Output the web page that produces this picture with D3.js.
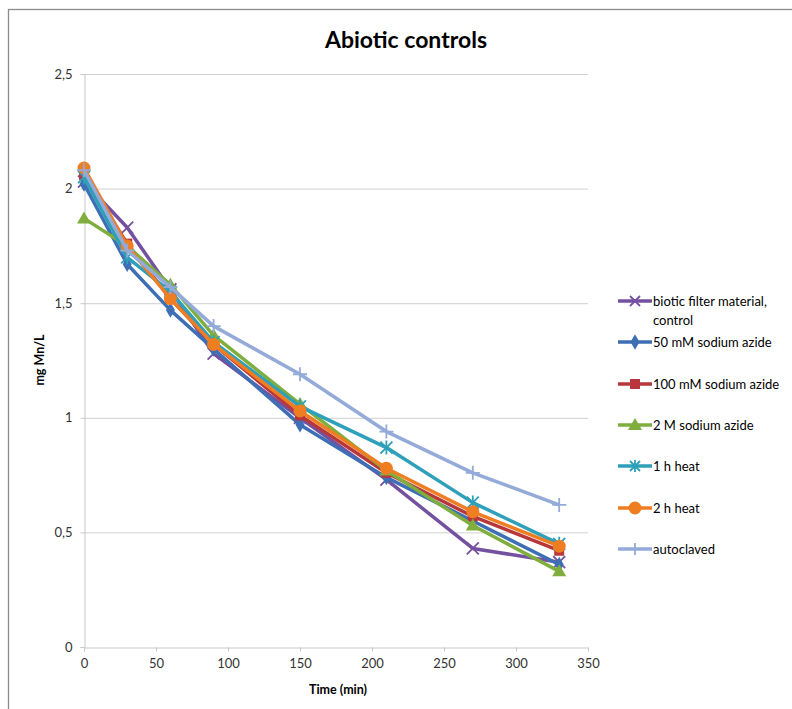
<!DOCTYPE html>
<html><head><meta charset="utf-8">
<script src="https://cdn.jsdelivr.net/npm/d3@7"></script>
<style>body{margin:0;background:#fff}svg{display:block;font-family:Lato,"Open Sans",sans-serif}</style>
</head><body><svg id="c" width="792" height="709"></svg>
<script>
const times = [0, 30, 60, 90, 150, 210, 270, 330];
const seriesNames = ["biotic filter material, control","50 mM sodium azide","100 mM sodium azide","2 M sodium azide","1 h heat","2 h heat","autoclaved"];
const bioticControl = [2.03, 1.83, 1.56, 1.28, 1.00, 0.73, 0.43, 0.37];
const azide50 = [2.02, 1.67, 1.47, 1.30, 0.97, 0.74, 0.55, 0.36];
const azide100 = [2.06, 1.76, 1.52, 1.32, 1.01, 0.76, 0.57, 0.42];
const azide2M = [1.87, 1.75, 1.58, 1.36, 1.06, 0.77, 0.53, 0.33];
const heat1h = [2.05, 1.70, 1.55, 1.33, 1.05, 0.87, 0.63, 0.45];
const heat2h = [2.09, 1.75, 1.52, 1.32, 1.03, 0.78, 0.59, 0.44];
const autoclaved = [2.08, 1.73, 1.57, 1.40, 1.19, 0.94, 0.76, 0.62];
const xTicks = [0, 50, 100, 150, 200, 250, 300, 350];
const yTicks = [0, 0.5, 1, 1.5, 2, 2.5];
const yTickLabels = ["0", "0,5", "1", "1,5", "2", "2,5"];
const colors = ["#7451a0", "#3e6fb5", "#b8373a", "#7fae3e", "#2ea0b9", "#ef7d22", "#94aad8"];
const markers = ["x", "diamond", "square", "triangle", "asterisk", "circle", "plus"];
const values = [bioticControl, azide50, azide100, azide2M, heat1h, heat2h, autoclaved];

const svg = d3.select("#c");
svg.append("rect").attr("x", 8.5).attr("y", 9.5).attr("width", 800).attr("height", 720)
  .attr("fill", "#fff").attr("stroke", "#8c8c8c").attr("stroke-width", 1.3);

const x = d3.scaleLinear().domain([0, 350]).range([84, 588]);
const y = d3.scaleLinear().domain([0, 2.5]).range([647, 74]);

svg.append("g").selectAll("line").data(yTicks.slice(1)).join("line")
  .attr("x1", 84).attr("x2", 588).attr("y1", d => y(d) + 0.5).attr("y2", d => y(d) + 0.5)
  .attr("stroke", "#d0d0d0").attr("stroke-width", 1);

const xAxis = svg.append("g").attr("transform", `translate(0,${y(0) + 0.5})`)
  .call(d3.axisBottom(x).tickValues(xTicks).tickSize(4).tickPadding(7));
const yAxis = svg.append("g").attr("transform", `translate(${x(0) + 0.5},0)`)
  .call(d3.axisLeft(y).tickValues(yTicks).tickFormat((d, i) => yTickLabels[i]).tickSize(4).tickPadding(8));
[xAxis, yAxis].forEach(a => {
  a.select(".domain").attr("stroke", "#c8c8c8");
  a.selectAll(".tick line").attr("stroke", "#c8c8c8");
  a.selectAll("text").attr("fill", "#333").style("font-size", "13px").style("font-family", "Lato, sans-serif");
});

svg.append("text").attr("x", 406).attr("y", 48).attr("text-anchor", "middle")
  .style("font-size", "23px").style("font-weight", "bold").attr("fill", "#000").text("Abiotic controls");
svg.append("text").attr("x", 338).attr("y", 694).attr("text-anchor", "middle")
  .style("font-size", "12.5px").style("font-weight", "bold").attr("fill", "#000").text("Time (min)");
svg.append("text").attr("transform", "translate(44,360) rotate(-90)").attr("text-anchor", "middle")
  .style("font-size", "12.5px").style("font-weight", "bold").attr("fill", "#000").text("mg Mn/L");

function drawMarker(g, type, cx, cy, color, s) {
  const m = g.append("g").attr("transform", `translate(${cx},${cy})`);
  if (type === "x") {
    m.append("path").attr("d", `M${-s},${-s}L${s},${s}M${-s},${s}L${s},${-s}`).attr("stroke", color).attr("stroke-width", 1.8).attr("fill", "none");
  } else if (type === "diamond") {
    m.append("path").attr("d", d3.symbol(d3.symbolDiamond, 70)()).attr("fill", color);
  } else if (type === "square") {
    m.append("rect").attr("x", -5).attr("y", -5).attr("width", 10).attr("height", 10).attr("fill", color);
  } else if (type === "triangle") {
    m.append("path").attr("d", `M0,-7L7,5L-7,5Z`).attr("fill", color);
  } else if (type === "asterisk") {
    m.append("path").attr("d", `M${-s},${-s}L${s},${s}M${-s},${s}L${s},${-s}M0,${-s - 1}L0,${s + 1}`).attr("stroke", color).attr("stroke-width", 1.8).attr("fill", "none");
  } else if (type === "circle") {
    m.append("circle").attr("r", 6.5).attr("fill", color);
  } else if (type === "plus") {
    m.append("path").attr("d", `M${-s - 1},0L${s + 1},0M0,${-s - 1}L0,${s + 1}`).attr("stroke", color).attr("stroke-width", 1.8).attr("fill", "none");
  }
}

const line = d3.line().x((d, i) => x(times[i])).y(d => y(d));
const plot = svg.append("g");
values.forEach((vals, si) => {
  const g = plot.append("g");
  g.append("path").datum(vals).attr("d", line).attr("fill", "none")
    .attr("stroke", colors[si]).attr("stroke-width", 3.5).attr("stroke-linejoin", "round");
  vals.forEach((v, i) => drawMarker(g, markers[si], x(times[i]), y(v), colors[si], 6));
});

const legY = [301, 342, 384, 425, 466, 508, 549];
const leg = svg.append("g");
seriesNames.forEach((name, si) => {
  const ly = legY[si];
  leg.append("line").attr("x1", 618).attr("x2", 652).attr("y1", ly).attr("y2", ly)
    .attr("stroke", colors[si]).attr("stroke-width", 3.5);
  drawMarker(leg, markers[si], 635, ly, colors[si], 5);
  const t = leg.append("text").attr("x", 653).attr("y", ly + 4.5)
    .style("font-size", "13px").attr("fill", "#000");
  if (si === 0) {
    t.append("tspan").attr("x", 653).text("biotic filter material,");
    t.append("tspan").attr("x", 653).attr("dy", 19).text("control");
  } else t.text(name);
});
</script></body></html>
